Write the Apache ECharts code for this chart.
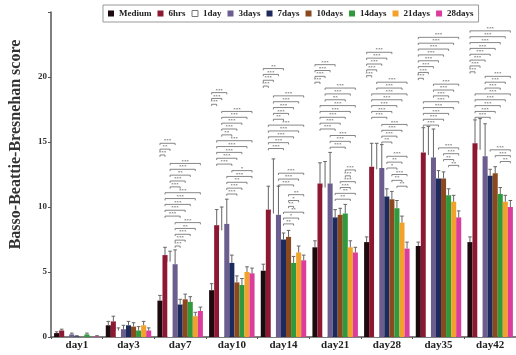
<!DOCTYPE html>
<html><head><meta charset="utf-8">
<script src="https://cdn.jsdelivr.net/npm/echarts@6/dist/echarts.min.js"></script>
<style>html,body{margin:0;padding:0;background:#fff}#c{width:516px;height:355px}</style>
</head><body><div id="c"></div>
<script>
// ---------- data ----------
const categories = ['day1','day3','day7','day10','day14','day21','day28','day35','day42'];
const seriesNames = ['Medium','6hrs','1day','3days','7days','10days','14days','21days','28days'];
const yTicks = [0,5,10,15,20];

const medium  = [0.3, 0.9, 2.8, 3.6, 5.1, 6.9, 7.3, 7.0, 7.3];
const hrs6    = [0.5, 1.2, 6.3, 8.6, 9.8, 11.8, 13.1, 14.2, 14.9];
const day1s   = [0.0, 0.5, 5.8, 8.2, 9.5, 11.5, 12.9, 14.0, 14.4];
const days3   = [0.2, 0.6, 5.6, 8.7, 9.4, 11.8, 13.0, 13.8, 13.9];
const days7   = [0.05, 0.9, 2.5, 5.7, 7.5, 9.2, 10.8, 12.2, 12.4];
const days10  = [0.0, 0.8, 2.9, 4.2, 7.7, 9.4, 10.6, 12.2, 12.6];
const days14  = [0.2, 0.5, 2.7, 4.0, 5.7, 9.5, 9.9, 10.9, 11.0];
const days21  = [0.0, 0.9, 1.6, 5.0, 6.5, 6.9, 8.8, 10.4, 10.4];
const days28  = [0.05, 0.5, 2.0, 4.9, 5.9, 6.5, 6.8, 9.2, 10.0];

const errMedium = [0.1, 0.3, 0.4, 0.5, 0.5, 0.5, 0.4, 0.3, 0.4];
const err6hrs   = [0.1, 0.4, 0.6, 1.2, 1.8, 1.6, 1.8, 1.9, 1.8];
const err1day   = [0.0, 0.2, 0.8, 1.8, 4.2, 2.0, 2.0, 2.2, 2.4];
const err3days  = [0.1, 0.3, 1.1, 1.9, 2.2, 2.4, 1.8, 2.2, 2.5];
const err7days  = [0.05,0.3, 0.4, 0.6, 0.5, 0.6, 0.6, 0.6, 0.5];
const err10days = [0.0, 0.3, 0.4, 0.5, 0.5, 0.5, 0.6, 0.5, 0.5];
const err14days = [0.1, 0.3, 0.4, 0.5, 0.5, 0.7, 0.6, 0.5, 0.5];
const err21days = [0.0, 0.3, 0.3, 0.4, 0.5, 0.5, 0.5, 0.5, 0.5];
const err28days = [0.05,0.2, 0.3, 0.4, 0.4, 0.4, 0.5, 0.5, 0.5];

// significance brackets: category index, starting height, compared bar pairs [from,to,stars]
const sigClusters = [
  {cat:2, y0:7.0,  pairs:[[3,4,3],[3,5,3],[3,6,3],[3,7,2],[3,8,3]]},
  {cat:2, y0:9.3,  pairs:[[1,4,3],[1,5,3],[1,6,3],[1,7,3],[1,8,3],[2,4,3],[2,5,3],[2,6,2],[2,7,3],[2,8,3]]},
  {cat:2, y0:14.0, pairs:[[0,1,3],[0,2,2],[0,3,3]]},
  {cat:3, y0:11.0, pairs:[[3,5,3],[3,6,3],[3,7,2],[3,8,3],[4,8,1]]},
  {cat:3, y0:13.3, pairs:[[1,4,3],[1,5,3],[1,6,3],[1,7,3],[1,8,3],[2,4,2],[2,5,3],[2,6,3],[2,7,3],[2,8,3]]},
  {cat:3, y0:17.9, pairs:[[0,1,3],[0,2,3],[0,3,3]]},
  {cat:4, y0:8.7,  pairs:[[4,6,2],[4,7,1],[4,8,2],[5,6,2],[5,7,1],[5,8,2]]},
  {cat:4, y0:11.7, pairs:[[3,6,3],[3,7,3],[3,8,3]]},
  {cat:4, y0:14.5, pairs:[[1,4,3],[1,5,3],[1,6,3],[1,7,3],[1,8,3],[2,4,2],[2,5,3],[2,6,3],[2,7,3],[2,8,3]]},
  {cat:4, y0:19.3, pairs:[[0,1,3],[0,2,3],[0,3,3],[0,4,2]]},
  {cat:5, y0:10.6, pairs:[[4,7,2],[4,8,2],[5,7,3],[5,8,3],[6,7,3],[6,8,3]]},
  {cat:5, y0:14.6, pairs:[[3,6,3],[3,7,3],[3,8,3]]},
  {cat:5, y0:16.0, pairs:[[1,4,3],[1,5,3],[1,6,3],[1,7,3],[1,8,3],[2,6,2],[2,7,3],[2,8,3]]},
  {cat:5, y0:19.6, pairs:[[0,1,3],[0,2,3],[0,3,3],[0,4,3]]},
  {cat:6, y0:11.6, pairs:[[6,8,2],[5,7,2],[5,8,3]]},
  {cat:6, y0:13.0, pairs:[[4,6,1],[4,7,2],[4,8,3]]},
  {cat:6, y0:15.0, pairs:[[3,5,2],[3,6,3],[3,7,3],[3,8,3]]},
  {cat:6, y0:16.9, pairs:[[1,4,3],[1,5,3],[1,6,3],[1,7,3],[1,8,3],[2,7,3],[2,8,3]]},
  {cat:6, y0:20.1, pairs:[[0,1,3],[0,2,3],[0,3,3],[0,4,3],[0,5,3]]},
  {cat:7, y0:13.2, pairs:[[6,8,2],[5,7,2],[5,8,3],[4,8,3]]},
  {cat:7, y0:16.3, pairs:[[1,4,3],[1,5,3],[1,6,3],[1,7,3],[1,8,3],[3,6,3],[3,7,3],[3,8,3]]},
  {cat:7, y0:19.9, pairs:[[0,1,3],[0,2,3],[0,3,3],[0,4,3],[0,5,3],[0,6,3],[0,7,3],[0,8,3]]},
  {cat:8, y0:13.5, pairs:[[6,8,2],[5,8,3],[4,8,3]]},
  {cat:8, y0:16.9, pairs:[[1,4,3],[1,5,3],[1,6,3],[1,7,3],[1,8,3],[3,6,3],[3,7,3],[3,8,3]]},
  {cat:8, y0:20.4, pairs:[[0,1,3],[0,2,3],[0,3,3],[0,4,3],[0,5,3],[0,6,3],[0,7,3],[0,8,3]]}
];

// ---------- styling ----------
const values = [medium, hrs6, day1s, days3, days7, days10, days14, days21, days28];
const errors = [errMedium, err6hrs, err1day, err3days, err7days, err10days, err14days, err21days, err28days];
const colors = ['#1c0a0e','#8c1832','#ffffff','#6b5e8e','#1e2a5e','#8a4a1e','#2f9a3c','#f2a22a','#dc3d9c'];
const FONT = '"Liberation Serif","Times New Roman",serif';
const STEP = 0.45;           // vertical spacing of stacked brackets
const CAT_GAP = 0.12;        // bar category gap fraction
const N = seriesNames.length;

function barX(api, cat, idx) {
  const cx = api.coord([cat, 0])[0];
  const band = api.size([1, 0])[0];
  const bw = band * (1 - CAT_GAP) / N;
  return cx - band * (1 - CAT_GAP) / 2 + (idx + 0.5) * bw;
}

const errData = [];
values.forEach((arr, s) => arr.forEach((v, c) => errData.push([c, s, v, errors[s][c]])));

const sigData = [];
sigClusters.forEach(cl => cl.pairs.forEach((p, k) => sigData.push([cl.cat, p[0], p[1], cl.y0 + k * STEP, p[2]])));

const barSeries = seriesNames.map((name, i) => ({
  name, type: 'bar', data: values[i],
  barGap: '0%', barCategoryGap: (CAT_GAP * 100) + '%',
  itemStyle: { color: colors[i] },
  emphasis: { disabled: true }
}));

const chart = echarts.init(document.getElementById('c'), null, { renderer: 'canvas' });
chart.setOption({
  animation: false,
  backgroundColor: '#fff',
  color: colors,
  legend: {
    left: 103, top: 5,
    itemWidth: 6, itemHeight: 6, itemGap: 6,
    padding: [4, 5],
    borderColor: '#999', borderWidth: 1,
    icon: 'rect',
    textStyle: { fontFamily: FONT, fontWeight: 'bold', fontSize: 9, color: '#222' },
    data: seriesNames.map((n, i) => i === 2
      ? { name: n, itemStyle: { color: '#fff', borderColor: '#777', borderWidth: 1 } }
      : { name: n })
  },
  grid: { left: 48, right: -3, top: 12, bottom: 18, containLabel: false },
  xAxis: {
    type: 'category', data: categories,
    axisLine: { lineStyle: { color: '#555', width: 1.5 } },
    axisTick: { show: true, length: 2, lineStyle: { color: '#555' } },
    axisLabel: { fontFamily: FONT, fontWeight: 'bold', fontSize: 11, color: '#222', margin: 3 }
  },
  yAxis: {
    type: 'value', min: 0, max: 25, interval: 5,
    splitLine: { show: false },
    axisLine: { show: true, lineStyle: { color: '#555', width: 1.5 } },
    axisTick: { show: true, length: 3, lineStyle: { color: '#555' } },
    axisLabel: { fontFamily: FONT, fontWeight: 'bold', fontSize: 9, color: '#333', margin: 4,
      formatter: v => yTicks.indexOf(v) >= 0 ? String(v) : '' },
    name: 'Basso-Beattie-Bresnehan score',
    nameLocation: 'middle', nameGap: 27,
    nameTextStyle: { fontFamily: FONT, fontWeight: 'bold', fontSize: 16, color: '#333', padding: [0, 0, 0, 60] }
  },
  series: barSeries.concat([
    {
      type: 'custom', name: 'err', z: 5, clip: false, silent: true,
      data: errData,
      encode: { x: 0, y: 2 },
      renderItem: (params, api) => {
        const c = api.value(0), s = api.value(1), v = api.value(2), e = api.value(3);
        if (!(e > 0)) return null;
        const x = barX(api, c, s);
        const y0 = api.coord([c, v])[1];
        const y1 = api.coord([c, v + e])[1];
        return { type: 'group', children: [
          { type: 'line', shape: { x1: x, y1: y0, x2: x, y2: y1 }, style: { stroke: '#666', lineWidth: 1 } },
          { type: 'line', shape: { x1: x - 1.8, y1: y1, x2: x + 1.8, y2: y1 }, style: { stroke: '#666', lineWidth: 1 } }
        ]};
      }
    },
    {
      type: 'custom', name: 'sig', z: 6, clip: false, silent: true,
      data: sigData,
      encode: { x: 0, y: 3 },
      renderItem: (params, api) => {
        const c = api.value(0), a = api.value(1), b = api.value(2), yv = api.value(3), st = api.value(4);
        const x1 = barX(api, c, a), x2 = barX(api, c, b);
        const y = api.coord([c, yv])[1];
        return { type: 'group', children: [
          { type: 'polyline', shape: { points: [[x1, y + 1.8], [x1, y], [x2, y], [x2, y + 1.8]] },
            style: { stroke: '#555', lineWidth: 0.7, fill: 'none' } },
          { type: 'text', x: (x1 + x2) / 2, y: y + 0.3,
            style: { text: '*'.repeat(st), fontSize: 5, fontFamily: FONT, fill: '#444', align: 'center', verticalAlign: 'bottom' } }
        ]};
      }
    }
  ])
});
</script>
</body></html>
